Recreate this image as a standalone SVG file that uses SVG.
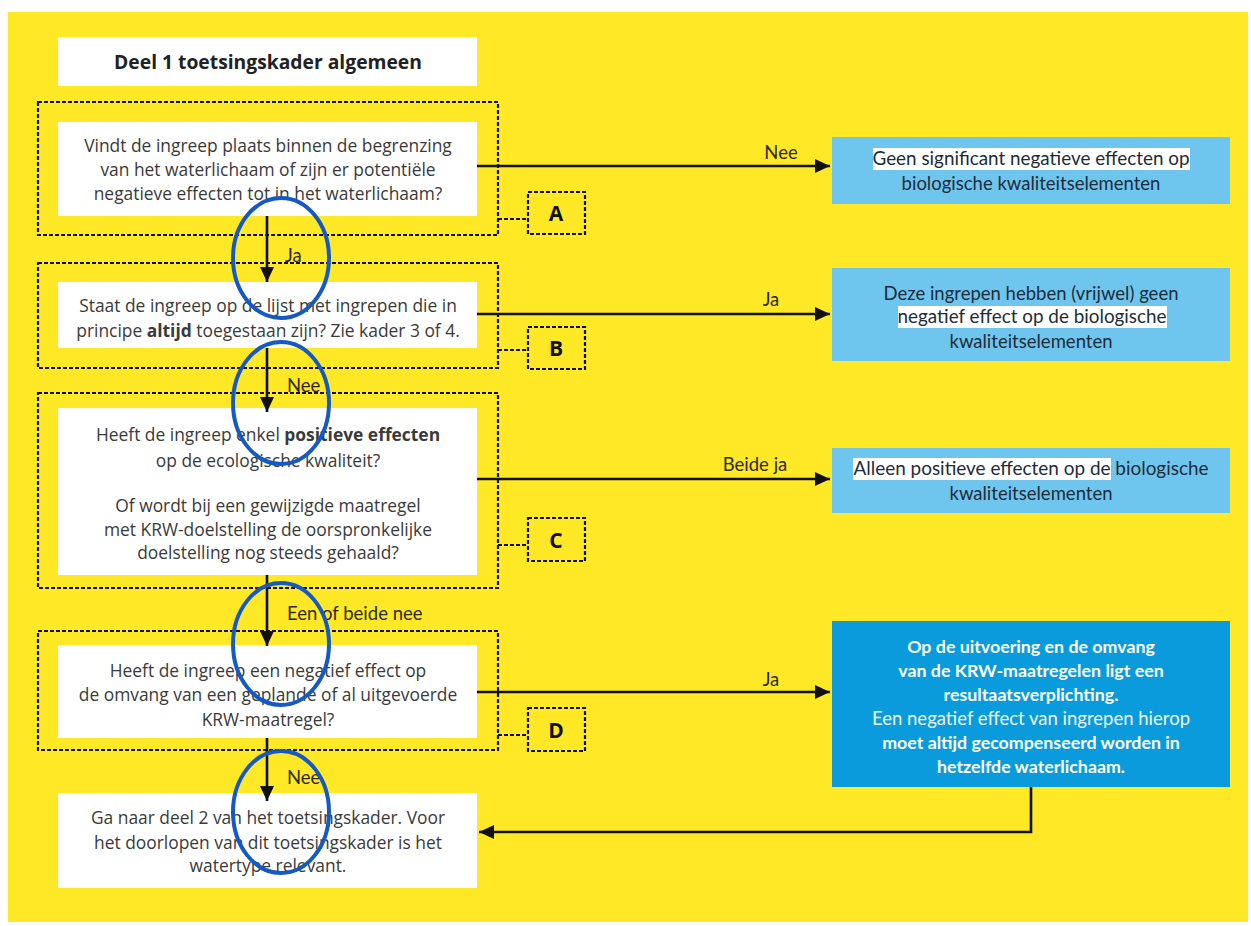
<svg xmlns="http://www.w3.org/2000/svg" width="1251" height="926" viewBox="0 0 1251 926">
<defs>
<style>
.bg{fill:#FFE826}
.wbox{fill:#ffffff}
.dash{fill:none;stroke:#111;stroke-width:2.2;stroke-dasharray:4 2}
.lbl{fill:none;stroke:#111;stroke-width:2.2;stroke-dasharray:4 2}
.lt{font-family:"Open Sans",Lato,sans-serif;font-size:17.4px;fill:#3a3a3a;text-anchor:middle}
.title{font-family:"Open Sans",Lato,sans-serif;font-size:19.3px;font-weight:bold;fill:#222;text-anchor:middle}
.letter{font-family:"Open Sans",Lato,sans-serif;font-size:21px;font-weight:bold;fill:#111;text-anchor:middle}
.lb{font-family:Lato,"Open Sans",sans-serif;font-size:18.5px;fill:#2e2a00;text-anchor:middle}
.lbs{font-family:Lato,"Open Sans",sans-serif;font-size:18.5px;fill:#2e2a00}
.lblue{fill:#6EC6EF}
.dblue{fill:#0A9BDD}
.bt{font-family:Lato,"Open Sans",sans-serif;font-size:18.5px;fill:#1e2c3a;text-anchor:middle}
.wt{font-family:Lato,"Open Sans",sans-serif;font-size:17.8px;font-weight:bold;fill:#ffffff;text-anchor:middle}
.wtn{font-family:Lato,"Open Sans",sans-serif;font-size:18.5px;fill:#eef6fb;text-anchor:middle}
.hl{fill:#ffffff}
.line{fill:none;stroke:#111;stroke-width:2.6}
.dot{fill:none;stroke:#111;stroke-width:2.2;stroke-dasharray:4 2}
.ring{fill:none;stroke:#1459C4;stroke-width:4}
</style>
<marker id="ah" markerUnits="userSpaceOnUse" markerWidth="16" markerHeight="16" refX="15" refY="8" orient="auto">
<path d="M0,1 L15,8 L0,15 z" fill="#111"/>
</marker>
</defs>
<rect x="0" y="0" width="1251" height="926" fill="#ffffff"/>
<rect class="bg" x="8" y="12" width="1240" height="910"/>

<g id="title">
<rect class="wbox" x="58" y="37" width="419" height="49"/>
<text class="title" x="268" y="69">Deel 1 toetsingskader algemeen</text>
</g>

<g id="nodeA">
<rect class="dash" x="38" y="102" width="460" height="133"/>
<rect class="wbox" x="58" y="122" width="419" height="94"/>
<text class="lt" x="268" y="152">Vindt de ingreep plaats binnen de begrenzing</text>
<text class="lt" x="268" y="176">van het waterlichaam of zijn er potentiële</text>
<text class="lt" x="268" y="200">negatieve effecten tot in het waterlichaam?</text>
<rect class="lbl" x="528" y="192" width="57" height="42"/>
<text class="letter" x="556" y="221">A</text>
</g>

<g id="nodeB">
<rect class="dash" x="38" y="263" width="460" height="105"/>
<rect class="wbox" x="58" y="282" width="419" height="66"/>
<text class="lt" x="268" y="312">Staat de ingreep op de lijst met ingrepen die in</text>
<text class="lt" x="268" y="337">principe <tspan font-weight="bold">altijd</tspan> toegestaan zijn? Zie kader 3 of 4.</text>
<rect class="lbl" x="528" y="327" width="57" height="42"/>
<text class="letter" x="556" y="356">B</text>
</g>

<g id="nodeC">
<rect class="dash" x="38" y="393" width="460" height="195"/>
<rect class="wbox" x="58" y="408" width="419" height="167"/>
<text class="lt" x="268" y="441">Heeft de ingreep enkel <tspan font-weight="bold">positieve effecten</tspan></text>
<text class="lt" x="268" y="467">op de ecologische kwaliteit?</text>
<text class="lt" x="268" y="512">Of wordt bij een gewijzigde maatregel</text>
<text class="lt" x="268" y="536">met KRW-doelstelling de oorspronkelijke</text>
<text class="lt" x="268" y="559">doelstelling nog steeds gehaald?</text>
<rect class="lbl" x="528" y="518" width="57" height="43"/>
<text class="letter" x="556" y="548">C</text>
</g>

<g id="nodeD">
<rect class="dash" x="38" y="631" width="460" height="119"/>
<rect class="wbox" x="58" y="645" width="419" height="93"/>
<text class="lt" x="268" y="677">Heeft de ingreep een negatief effect op</text>
<text class="lt" x="268" y="701">de omvang van een geplande of al uitgevoerde</text>
<text class="lt" x="268" y="726">KRW-maatregel?</text>
<rect class="lbl" x="528" y="708" width="57" height="43"/>
<text class="letter" x="556" y="738">D</text>
</g>

<g id="nodeE">
<rect class="wbox" x="58" y="793" width="419" height="95"/>
<text class="lt" x="268" y="824">Ga naar deel 2 van het toetsingskader. Voor</text>
<text class="lt" x="268" y="849">het doorlopen van dit toetsingskader is het</text>
<text class="lt" x="268" y="872">watertype relevant.</text>
</g>

<g id="out1">
<rect class="lblue" x="832" y="137" width="398" height="67"/>
<rect class="hl" x="873" y="148" width="317" height="22"/>
<text class="bt" x="1031" y="165" textLength="317" lengthAdjust="spacingAndGlyphs">Geen significant negatieve effecten op</text>
<text class="bt" x="1031" y="190">biologische kwaliteitselementen</text>
</g>

<g id="out2">
<rect class="lblue" x="832" y="268" width="398" height="93"/>
<text class="bt" x="1031" y="300">Deze ingrepen hebben (vrijwel) geen</text>
<rect class="hl" x="898" y="306" width="269" height="22"/>
<text class="bt" x="1032" y="323" textLength="269" lengthAdjust="spacingAndGlyphs">negatief effect op de biologische</text>
<text class="bt" x="1031" y="348">kwaliteitselementen</text>
</g>

<g id="out3">
<rect class="lblue" x="832" y="448" width="398" height="65"/>
<rect class="hl" x="853" y="458" width="258" height="22"/>
<text class="bt" x="1031" y="475" textLength="355" lengthAdjust="spacingAndGlyphs">Alleen positieve effecten op de biologische</text>
<text class="bt" x="1031" y="500">kwaliteitselementen</text>
</g>

<g id="out4">
<rect class="dblue" x="832" y="621" width="398" height="166"/>
<text class="wt" x="1031" y="653">Op de uitvoering en de omvang</text>
<text class="wt" x="1031" y="677">van de KRW-maatregelen ligt een</text>
<text class="wt" x="1031" y="701">resultaatsverplichting.</text>
<text class="wtn" x="1031" y="725">Een negatief effect van ingrepen hierop</text>
<text class="wt" x="1031" y="749">moet altijd gecompenseerd worden in</text>
<text class="wt" x="1031" y="773">hetzelfde waterlichaam.</text>
</g>

<g id="connectors">
<line class="line" x1="477" y1="166" x2="830" y2="166" marker-end="url(#ah)"/>
<text class="lb" x="781" y="159">Nee</text>
<line class="line" x1="477" y1="314" x2="830" y2="314" marker-end="url(#ah)"/>
<text class="lb" x="771" y="306">Ja</text>
<line class="line" x1="477" y1="479" x2="830" y2="479" marker-end="url(#ah)"/>
<text class="lb" x="755" y="471">Beide ja</text>
<line class="line" x1="477" y1="692" x2="830" y2="692" marker-end="url(#ah)"/>
<text class="lb" x="771" y="686">Ja</text>

<line class="line" x1="267" y1="216" x2="267" y2="282" marker-end="url(#ah)"/>
<text class="lbs" x="285" y="262">Ja</text>
<line class="line" x1="267" y1="348" x2="267" y2="412" marker-end="url(#ah)"/>
<text class="lbs" x="287" y="392">Nee</text>
<line class="line" x1="267" y1="575" x2="267" y2="646" marker-end="url(#ah)"/>
<text class="lbs" x="287" y="620">Een of beide nee</text>
<line class="line" x1="267" y1="738" x2="267" y2="801" marker-end="url(#ah)"/>
<text class="lbs" x="287" y="784">Nee</text>

<polyline class="line" points="1031,787 1031,832 479,832" marker-end="url(#ah)"/>

<line class="dot" x1="498" y1="219" x2="528" y2="219"/>
<line class="dot" x1="498" y1="350" x2="528" y2="350"/>
<line class="dot" x1="498" y1="545" x2="528" y2="545"/>
<line class="dot" x1="498" y1="735" x2="528" y2="735"/>
</g>

<g id="rings">
<ellipse class="ring" cx="281" cy="258" rx="48" ry="60"/>
<ellipse class="ring" cx="281" cy="403" rx="48" ry="61"/>
<ellipse class="ring" cx="281" cy="644" rx="48" ry="61"/>
<ellipse class="ring" cx="281" cy="812" rx="48" ry="61"/>
</g>
</svg>
